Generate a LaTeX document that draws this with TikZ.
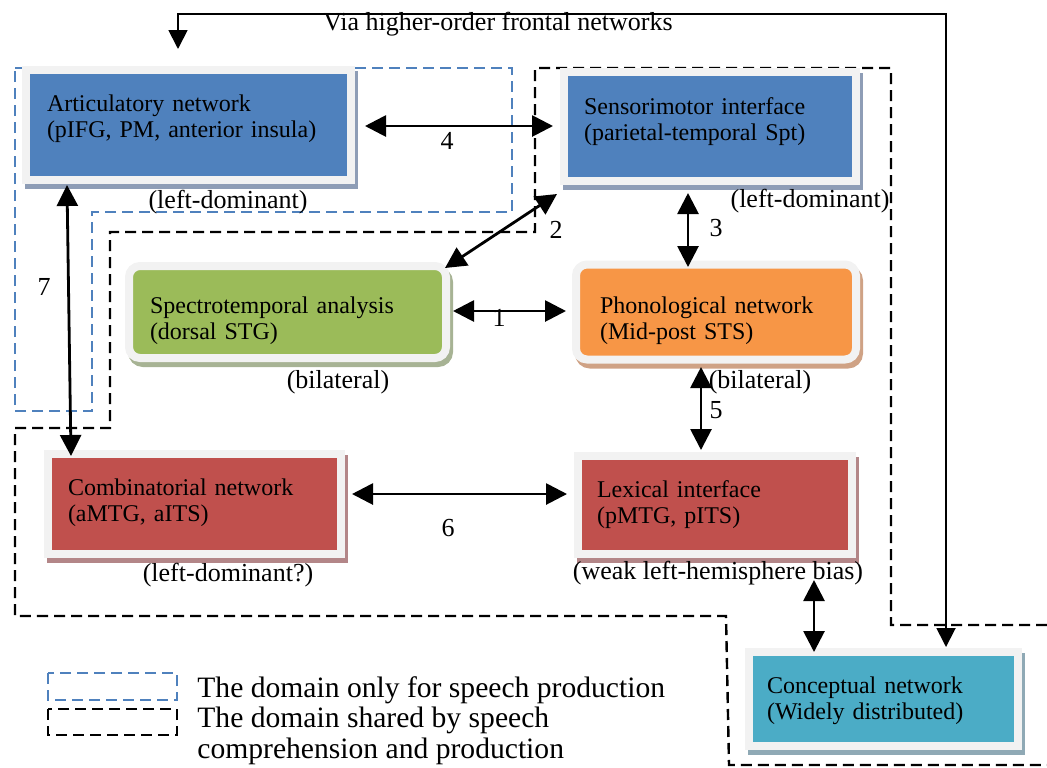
\documentclass[tikz,border=0pt]{standalone}
\usepackage{fontspec}
\setmainfont{Liberation Serif}
\usetikzlibrary{arrows.meta,calc}
\definecolor{framegrey}{HTML}{F2F2F2}
\definecolor{cblue}{HTML}{4F81BD}
\definecolor{cgreen}{HTML}{9BBB59}
\definecolor{corange}{HTML}{F79646}
\definecolor{cred}{HTML}{C0504D}
\definecolor{cteal}{HTML}{4BACC6}
\definecolor{shblue}{HTML}{8E9DB6}
\definecolor{shgreen}{HTML}{A7B394}
\definecolor{shorange}{HTML}{CFA285}
\definecolor{shred}{HTML}{B38688}
\definecolor{shteal}{HTML}{8FA9B5}
\begin{document}
\begin{tikzpicture}[x=0.5pt,y=-0.5pt,
  boxbase/.style={draw=framegrey, line width=4pt, align=left, font=\fontsize{12}{13}\selectfont, text=black},
  shadowed/.style={preaction={draw=#1, fill=#1, line width=4pt, transform canvas={shift={(1.5pt,-2.5pt)}}}},
  biarrow/.style={{Triangle[length=10.5pt,width=10.5pt]}-{Triangle[length=10.5pt,width=10.5pt]}, line width=1.4pt},
  viaarrow/.style={{Triangle[length=9.5pt,width=9.5pt]}-{Triangle[length=9.5pt,width=9.5pt]}, line width=0.9pt},
  lbl/.style={font=\fontsize{13}{14}\selectfont, inner sep=0pt},
  legendtxt/.style={font=\fontsize{14.8}{15.5}\selectfont, inner sep=0pt, align=left},
  bluedash/.style={draw=cblue, line width=1.2pt, dash pattern=on 5.5pt off 3pt},
  blackdash/.style={draw=black, line width=1.2pt, dash pattern=on 5.5pt off 3pt},
]
\useasboundingbox (0,0) rectangle (1047,767);

% dashed domains
\draw[bluedash] (15,68) -- (512,68) -- (512,212) -- (92,212) -- (92,411) -- (15,411) -- cycle;
\draw[blackdash] (1047,625) -- (891,625) -- (891,68) -- (535,68) -- (535,232) -- (110,232) -- (110,428) -- (15,428) -- (15,616) -- (726,616) -- (729,765) -- (1047,765);

% boxes
\node[boxbase, shadowed=shblue, fill=cblue, minimum width=162.5pt, minimum height=55pt, text width=141.5pt, inner xsep=10.5pt] (art) at (188.5,125) {Articulatory network\\(pIFG, PM, anterior insula)\par\vspace{6.5pt}};
\node[boxbase, shadowed=shblue, fill=cblue, minimum width=146pt, minimum height=54.5pt, text width=126pt, inner xsep=10pt] (sen) at (710,126) {Sensorimotor interface\\(parietal-temporal Spt)\par\vspace{4pt}};
\node[boxbase, shadowed=shgreen, fill=cgreen, rounded corners=5.5pt, minimum width=158.5pt, minimum height=46pt, text width=137.5pt, inner xsep=10.5pt] (spe) at (287.5,312) {Spectrotemporal analysis\\(dorsal STG)\par\vspace{-9pt}};
\node[boxbase, shadowed=shorange, fill=corange, rounded corners=5.5pt, minimum width=140pt, minimum height=47.5pt, text width=116pt, inner xsep=12pt] (pho) at (716,312) {Phonological network\\(Mid-post STS)\par\vspace{-8.5pt}};
\node[boxbase, shadowed=shred, fill=cred, minimum width=146.5pt, minimum height=50pt, text width=126.5pt, inner xsep=10pt] (com) at (194.5,504) {Combinatorial network\\(aMTG, aITS)\par\vspace{1.5pt}};
\node[boxbase, shadowed=shred, fill=cred, minimum width=137pt, minimum height=49pt, text width=118pt, inner xsep=9.5pt] (lex) at (715,505) {Lexical interface\\(pMTG, pITS)};
\node[boxbase, shadowed=shteal, fill=cteal, minimum width=134.5pt, minimum height=47pt, text width=116.5pt, inner xsep=9pt] (con) at (883.5,699) {Conceptual network\\(Widely distributed)\par\vspace{-2pt}};

% connectors
\draw[biarrow] ([xshift=5pt,yshift=-0.5pt]art.east) -- ([xshift=-3.5pt]sen.west);
\draw[biarrow] ([xshift=-2.5pt,yshift=-3pt]spe.north east) -- ([xshift=-1.5pt,yshift=-4.75pt]sen.south west);
\draw[biarrow] ([xshift=-11pt,yshift=-4.25pt]sen.south) -- ([xshift=-14pt,yshift=-3.25pt]pho.north);
\draw[biarrow] ([xshift=1.5pt,yshift=0.5pt]spe.east) -- ([xshift=-3pt,yshift=0.5pt]pho.west);
\draw[biarrow] ([xshift=-7.5pt,yshift=-1.75pt]pho.south) -- ([xshift=-7pt,yshift=1pt]lex.north);
\draw[biarrow] ([xshift=3.5pt,yshift=5pt]com.east) -- ([xshift=-3.5pt,yshift=5.5pt]lex.west);
\draw[biarrow] ([xshift=-60.75pt,yshift=-0.5pt]art.south) -- ([xshift=-61.75pt,yshift=-3pt]com.north);
\draw[biarrow] ([xshift=49.5pt,yshift=-11pt]lex.south) -- ([xshift=-34.75pt,yshift=-2pt]con.north);
\draw[viaarrow] ([xshift=31.25pt,yshift=0.5pt]con.north) -- ++(0,-633) -| ([xshift=-5.25pt,yshift=8.5pt]art.north);

% connector labels
\node[lbl] (via) at (498,24) {Via higher-order frontal networks};
\node[lbl] (n4) at (447,141) {4};
\node[lbl] (n2) at (556,230) {2};
\node[lbl] (n3) at (716,228) {3};
\node[lbl] (n1) at (499,318) {1};
\node[lbl] (n5) at (716,410) {5};
\node[lbl] (n6) at (448,528) {6};
\node[lbl] (n7) at (44,287) {7};

% annotations
\node[lbl] (a1) at (228,202) {(left-dominant)};
\node[lbl] (a2) at (810,201) {(left-dominant)};
\node[lbl] (a3) at (338,382) {(bilateral)};
\node[lbl] (a4) at (760,382) {(bilateral)};
\node[lbl] (a5) at (228,575) {(left-dominant?)};
\node[lbl] (a6) at (718,573) {(weak left-hemisphere bias)};

% legend
\draw[bluedash] (48,673) rectangle (177,700);
\draw[blackdash] (48,709) rectangle (177,735);
\node[legendtxt, anchor=west] (lg1) at (197,690) {The domain only for speech production};
\node[legendtxt, anchor=west] (lg2) at (197,736) {The domain shared by speech\\comprehension and production};
\end{tikzpicture}
\end{document}
